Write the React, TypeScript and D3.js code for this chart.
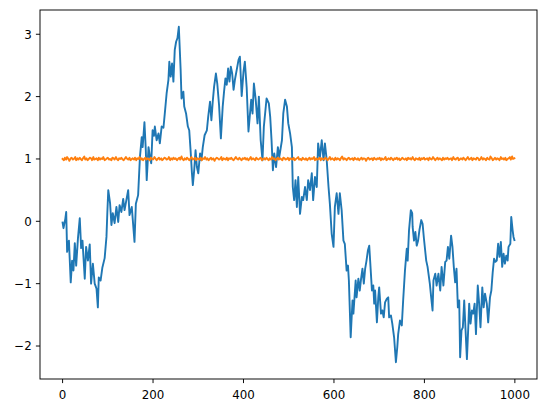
import React from "react";
import * as d3 from "d3";

const blueIdx = [0,2,6,8,10,14,18,21,24,27,30,34,38,41,44,49,52,56,60,63,67,71,75,78,80,84,88,93,97,99,101,105,108,111,115,119,123,126,130,134,137,141,145,148,153,159,162,167,171,175,177,181,184,186,190,193,196,199,202,204,208,212,215,219,223,226,230,234,236,239,242,245,248,251,254,257,261,263,267,269,273,277,280,283,286,288,291,294,297,300,304,307,310,314,319,322,326,329,332,335,339,342,346,350,354,357,360,363,366,369,372,375,378,381,385,389,392,396,400,403,407,411,417,420,423,427,431,434,438,442,445,451,456,459,462,465,468,472,476,479,485,488,492,496,499,503,507,509,512,515,518,521,525,529,532,536,540,543,547,551,554,558,562,565,569,573,577,580,584,588,591,595,599,602,606,610,613,617,621,624,628,631,633,637,641,643,645,648,650,654,657,660,663,666,669,672,675,678,680,684,687,689,691,695,698,700,704,707,710,713,717,720,722,726,729,733,737,740,742,746,750,753,757,761,763,766,770,773,774,777,780,783,786,789,793,796,799,804,807,812,815,818,820,824,827,831,835,838,842,846,849,852,855,859,862,865,868,871,874,877,879,882,885,888,891,894,897,899,902,905,908,911,914,918,921,924,928,931,934,938,941,945,948,951,954,957,960,963,966,969,972,975,978,981,984,986,990,992,995,997,999];
const blueVal = [-0.02,-0.11,0.04,0.15,-0.49,-0.31,-0.98,-0.63,-0.79,-0.35,-0.71,-0.27,0.05,-0.43,-0.31,-0.92,-0.41,-0.63,-0.37,-1.0,-0.68,-1.0,-1.08,-1.38,-0.9,-0.95,-0.74,-0.59,-0.25,0.15,0.5,0.29,-0.06,0.13,-0.03,0.23,-0.01,0.26,0.15,0.36,0.18,0.34,0.5,0.1,0.23,-0.33,0.28,0.42,1.03,1.35,1.19,1.59,1.14,0.66,1.19,1.04,0.93,1.46,1.37,1.52,1.3,1.41,1.25,1.52,1.5,1.73,2.05,2.27,2.56,2.32,2.53,2.24,2.75,2.88,2.94,3.12,2.43,1.97,2.08,1.84,1.73,1.52,1.46,1.14,0.77,0.58,0.82,1.14,0.87,0.77,1.09,0.98,1.19,1.38,1.46,1.68,1.92,1.62,1.92,2.16,2.37,2.21,1.86,1.33,1.84,2.08,2.29,2.19,2.45,2.24,2.48,2.37,2.11,2.27,2.43,2.59,2.64,2.01,2.4,2.56,2.15,1.44,1.95,1.73,2.21,1.95,1.57,2.0,1.3,0.98,1.52,1.97,1.89,1.68,1.3,0.82,1.09,0.87,1.19,1.03,1.3,1.73,1.95,1.84,1.57,1.41,1.19,0.55,0.34,0.66,0.23,0.71,0.12,0.39,0.34,0.55,0.34,0.66,0.5,0.77,0.34,0.71,0.55,1.25,1.03,1.3,0.98,1.25,0.98,0.55,0.28,-0.2,-0.41,0.23,0.45,0.12,0.45,0.18,-0.31,-0.36,-0.79,-0.71,-0.95,-1.86,-1.27,-1.48,-1.27,-0.95,-1.22,-0.92,-1.11,-0.92,-0.76,-1.0,-0.76,-0.63,-0.47,-0.39,-0.63,-1.11,-1.03,-1.32,-1.11,-1.62,-1.22,-1.06,-1.48,-1.43,-1.54,-1.3,-1.24,-1.22,-1.54,-1.51,-1.64,-1.86,-2.26,-2.02,-1.81,-1.59,-1.67,-1.27,-0.79,-0.44,-0.63,-0.14,0.18,0.13,-0.09,-0.31,-0.17,-0.39,-0.31,-0.14,0.02,-0.04,-0.28,-0.63,-0.73,-1.0,-1.22,-1.43,-0.95,-0.84,-1.03,-0.84,-1.11,-0.73,-1.03,-0.65,-0.63,-0.41,-0.6,-0.23,-0.41,-0.73,-0.98,-0.76,-1.38,-1.27,-2.18,-1.75,-1.7,-1.27,-1.75,-2.21,-1.7,-1.32,-1.64,-1.43,-1.48,-1.32,-1.81,-1.03,-1.32,-1.7,-1.06,-1.38,-1.16,-1.32,-1.62,-1.22,-1.11,-0.82,-0.6,-0.65,-0.63,-0.36,-0.57,-0.33,-0.73,-0.52,-0.68,-0.55,-0.63,-0.41,-0.36,0.07,-0.14,-0.25,-0.3];

const orangeVal = [
1.00,0.98,1.02,0.99,1.03,1.00,0.97,1.01,1.02,0.99,1.00,1.03,0.98,1.01,0.99,1.02,1.00,0.98,1.01,1.04,
0.99,1.01,0.98,1.00,1.02,1.01,0.98,1.03,0.99,1.00,1.01,0.98,1.02,0.99,1.01,1.00,1.03,0.98,0.99,1.01,
1.02,0.99,1.00,0.98,1.02,1.01,0.99,1.03,1.00,0.98,1.01,1.00,1.02,0.99,0.98,1.01,1.03,1.00,0.99,1.02,
0.98,1.00,1.01,0.99,1.02,0.98,1.01,1.00,1.03,0.99,1.01,0.98,1.00,1.02,0.99,1.01,1.00,0.98,1.02,1.00,
0.99,1.03,1.01,0.98,1.00,1.02,0.99,1.01,0.98,1.00,1.02,1.01,0.99,1.00,1.03,0.98,1.01,0.99,1.02,1.00,
1.01,0.98,1.00,1.02,0.99,1.04,1.00,0.98,1.01,0.99,1.02,1.00,0.98,1.01,1.03,0.99,1.00,1.02,0.98,1.01,
1.00,0.99,1.02,0.98,1.01,1.00,1.03,0.99,1.01,0.98,1.00,1.02,0.99,1.01,0.97,1.00,1.02,1.01,0.99,1.00,
1.03,0.98,1.01,1.00,0.99,1.02,0.98,1.01,1.00,1.02,0.99,0.98,1.01,1.03,1.00,0.99,1.02,1.00,0.98,1.01,
1.00,1.02,0.99,1.01,0.98,1.00,1.03,0.99,1.01,1.00,0.98,1.02,1.00,0.99,1.01,1.02,0.98,1.00,1.01,0.99,
1.02,1.00,0.98,1.01,0.99,1.03,1.00,1.01,0.98,1.00,1.02,0.99,1.01,1.00,0.98,1.02,1.01,0.99,1.00,1.02,
0.98,1.01,1.00,0.99,1.02,0.98,1.00,1.01,1.03,0.99,1.00,0.98,1.02,1.00,0.99,1.01,0.98,1.00,1.02,0.99,
1.01,1.00,1.03,0.98,1.01,0.99,1.00,1.02,0.98,1.01,1.00,0.99,1.02,1.01,0.98,1.00,1.03,0.99,1.01,1.00,
0.98,1.02,0.99,1.01,1.00,0.98,1.02,1.04,0.99,1.01,1.00,0.98,1.01,1.02,0.99,1.00,1.01,0.98,1.02,1.00,
0.99,1.01,0.98,1.00,1.02,0.99,1.01,1.00,0.97,1.01,1.02,0.99,1.00,1.01,0.98,1.02,1.00,0.99,1.01,1.00,
1.02,0.98,1.01,0.99,1.00,1.03,0.98,1.00,1.01,0.99,1.02,1.00,0.98,1.01,1.00,1.02,0.99,1.01,0.98,1.00,
1.02,1.00,0.99,1.01,0.98,1.02,1.00,1.01,0.99,1.03,1.00,0.98,1.01,1.00,0.99,1.02,0.98,1.01,1.00,1.02,
0.99,1.00,1.01,0.98,1.02,1.00,0.99,1.03,1.01,0.98,1.00,1.02,0.99,1.01,1.00,0.98,1.02,0.99,1.01,1.00,
1.02,0.99,1.00,1.01,0.98,1.03,1.00,0.99,1.01,1.02,0.98,1.00,1.01,0.99,1.02,1.00,0.98,1.01,1.03,0.99,
1.00,1.02,0.98,1.01,1.00,0.99,1.02,1.01,0.98,1.00,1.03,0.99,1.01,1.00,0.98,1.02,1.00,0.99,1.04,1.01,
0.98,1.00,1.02,0.99,1.01,1.00,0.98,1.03,1.00,1.01,0.99,1.02,0.98,1.00,1.01,1.03,0.99,1.04,1.00,1.01];

const xTicks = [0, 200, 400, 600, 800, 1000];
const yTicks = [-2, -1, 0, 1, 2, 3];

const W = 546, H = 413;
const L = 40, R = 537, T = 10, B = 379;

export default function App() {
  const orangeIdx = orangeVal.map((_, i) => Math.round((i * 999) / (orangeVal.length - 1)));
  const xMin = 0, xMax = 999;
  const allY = [...blueVal, ...orangeVal];
  const yMin = d3.min(allY)!, yMax = d3.max(allY)!;
  const xm = (xMax - xMin) * 0.05, ym = (yMax - yMin) * 0.05;
  const x = d3.scaleLinear().domain([xMin - xm, xMax + xm]).range([L, R]);
  const y = d3.scaleLinear().domain([yMin - ym, yMax + ym]).range([B, T]);
  const line = d3.line<[number, number]>().x(d => x(d[0])).y(d => y(d[1]));
  const blue = blueIdx.map((v, i) => [v, blueVal[i]] as [number, number]);
  const orange = orangeIdx.map((v, i) => [v, orangeVal[i]] as [number, number]);
  const fmt = (v: number) => (v < 0 ? "\u2212" + Math.abs(v) : String(v));
  const font = "'DejaVu Sans', sans-serif";
  return (
    <svg width={W} height={H} style={{ position: "absolute", left: 0, top: 0, background: "#fff" }}>
      <rect x={0} y={0} width={W} height={H} fill="#fff" />
      <defs>
        <clipPath id="clip"><rect x={L} y={T} width={R - L} height={B - T} /></clipPath>
      </defs>
      <g clipPath="url(#clip)">
        <path d={line(blue)!} fill="none" stroke="#1f77b4" strokeWidth={1.9} strokeLinejoin="round" strokeLinecap="square" />
        <path d={line(orange)!} fill="none" stroke="#ff7f0e" strokeWidth={1.9} strokeLinejoin="round" strokeLinecap="square" />
      </g>
      <rect x={L} y={T} width={R - L} height={B - T} fill="none" stroke="#000" strokeWidth={0.95} />
      {xTicks.map(t => (
        <g key={"x" + t}>
          <line x1={x(t)} x2={x(t)} y1={B} y2={B + 4.1} stroke="#000" strokeWidth={0.95} />
          <text x={x(t)} y={B + 20.3} textAnchor="middle" fontFamily={font} fontSize={11.85} fill="#000">{fmt(t)}</text>
        </g>
      ))}
      {yTicks.map(t => (
        <g key={"y" + t}>
          <line x1={L - 4.1} x2={L} y1={y(t)} y2={y(t)} stroke="#000" strokeWidth={0.95} />
          <text x={L - 8.2} y={y(t) + 4.3} textAnchor="end" fontFamily={font} fontSize={11.85} fill="#000">{fmt(t)}</text>
        </g>
      ))}
    </svg>
  );
}
